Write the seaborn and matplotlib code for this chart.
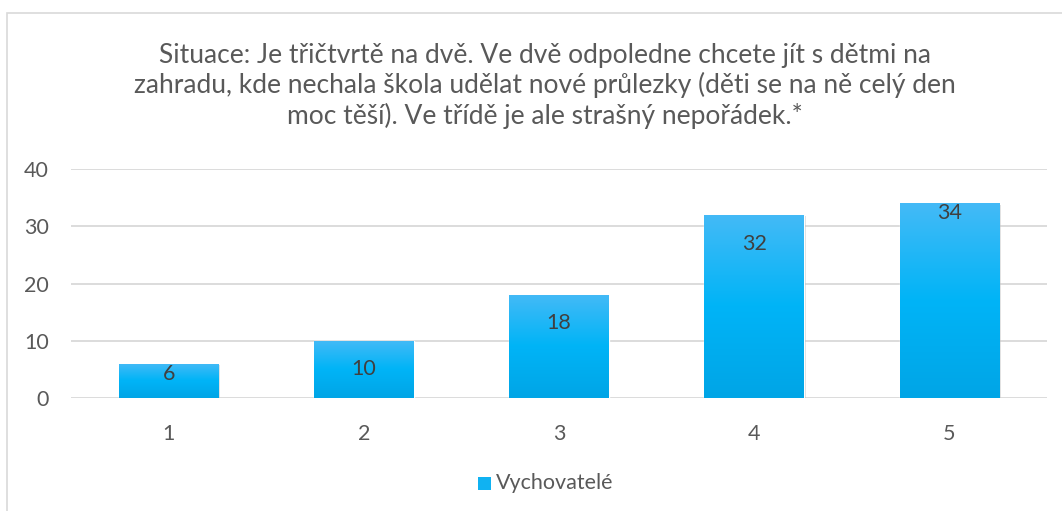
import numpy as np
import pandas as pd
import matplotlib
matplotlib.use("Agg")
import matplotlib.pyplot as plt
import matplotlib.patheffects as pe
from matplotlib.patches import Rectangle
from matplotlib.colors import LinearSegmentedColormap
import seaborn as sns

# ---- data ----
categories = ["1", "2", "3", "4", "5"]
values = [6, 10, 18, 32, 34]
series_name = "Vychovatelé"
title_text = ("Situace: Je třičtvrtě na dvě. Ve dvě odpoledne chcete jít s dětmi na\n"
              "zahradu, kde nechala škola udělat nové průlezky (děti se na ně celý den\n"
              "moc těší). Ve třídě je ale strašný nepořádek.*")
y_ticks = [0, 10, 20, 30, 40]

# label offsets below bar top (pixels) - layout only
label_offset_px = [10, 28, 28, 29, 10]

sns.set_theme(style="white")
plt.rcParams['font.family'] = ['Lato', 'DejaVu Sans']

W, H, DPI = 1062, 511, 100
fig = plt.figure(figsize=(W / DPI, H / DPI), dpi=DPI)
ax = fig.add_axes([71 / W, (H - 398) / H, 976 / W, 229 / H])

df = pd.DataFrame({"cat": categories, "val": values})
sns.barplot(data=df, x="cat", y="val", color="#00B0F0", width=0.51, ax=ax,
            saturation=1, zorder=3)

ax.set_ylim(0, 40)
ax.set_xlim(-0.5, len(categories) - 0.5)
ax.set_yticks(y_ticks)
ax.yaxis.grid(True, color="#D9D9D9", linewidth=1.3, zorder=0)
ax.set_axisbelow(True)
for s in ax.spines.values():
    s.set_visible(False)
ax.set_xlabel("")
ax.set_ylabel("")
ax.tick_params(axis="both", length=0, labelsize=15.5, labelcolor="#595959")
ax.tick_params(axis="y", pad=16)
ax.tick_params(axis="x", pad=19)

# gradient fill
grad = np.linspace(0, 1, 256).reshape(-1, 1)
cmap = LinearSegmentedColormap.from_list(
    "g", [(0.0, "#00A5E6"), (0.5, "#00B4F7"), (1.0, "#44BAF6")])
for p in ax.patches:
    x0, y0 = p.get_x(), p.get_y()
    w, h = p.get_width(), p.get_height()
    p.set_path_effects([pe.SimplePatchShadow(offset=(1.2, -1.2), shadow_rgbFace="#9a9a9a", alpha=0.35),
                        pe.Normal()])
    im = ax.imshow(grad, extent=[x0, x0 + w, y0, y0 + h], origin="lower",
                   cmap=cmap, aspect="auto", zorder=4)
    im.set_clip_path(p)

# data labels
px_per_unit = 229 / 40
for i, v in enumerate(values):
    ax.text(i, v - label_offset_px[i] / px_per_unit, str(v), ha="center", va="center",
            fontsize=15.5, color="#404040", zorder=6)

# title
fig.text(545 / W, 1 - 86 / H, title_text, ha="center", va="center",
         fontsize=19, color="#595959", linespacing=1.22)

# legend
fig.patches.append(Rectangle((478 / W, 1 - 490 / H), 13 / W, 13 / H,
                             transform=fig.transFigure, facecolor="#10B2F2",
                             edgecolor="none"))
fig.text(496 / W, 1 - 483 / H, series_name, ha="left", va="center",
         fontsize=15.5, color="#595959")

# chart border
fig.patches.append(Rectangle((7 / W, -0.01), 1.02, 1 - 13 / H + 0.01,
                             transform=fig.transFigure, facecolor="none",
                             edgecolor="#D9D9D9", linewidth=1.2))

fig.savefig("out.png", dpi=DPI)
